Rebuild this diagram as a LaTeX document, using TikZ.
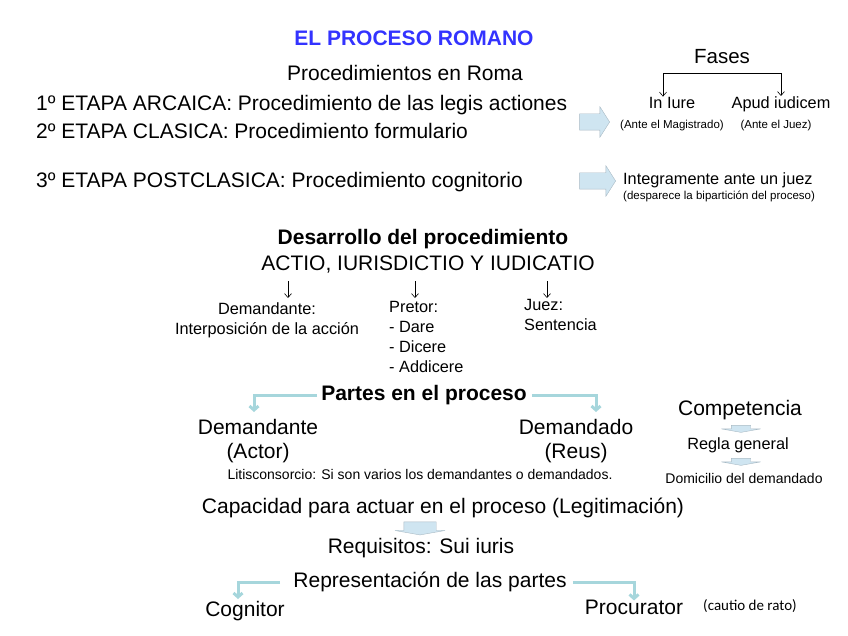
\documentclass[tikz,border=0pt]{standalone}
\usepackage{fontspec}
\setmainfont{Liberation Sans}
\newfontfamily\calib{Carlito}
\usetikzlibrary{arrows.meta,shapes.arrows}
\definecolor{ctitle}{HTML}{3333FF}
\definecolor{cblock}{HTML}{CFE5F1}
\definecolor{cedge}{HTML}{A9BAC4}
\definecolor{cteal}{HTML}{A6D6DC}
\tikzset{
  big/.style={font=\fontsize{21}{24}\selectfont, inner sep=1pt, align=center},
  mid/.style={font=\fontsize{16.3}{20}\selectfont, inner sep=1pt, align=center},
  sml/.style={font=\fontsize{14}{16}\selectfont, inner sep=1pt},
  tiny/.style={font=\fontsize{11.5}{13}\selectfont, inner sep=1pt},
  blkr/.style={single arrow, draw=cedge, fill=cblock, inner xsep=0pt,
    inner ysep=8pt, single arrow head extend=7pt, single arrow tip angle=115},
  blkd/.style={single arrow, draw=cedge, fill=cblock, rotate=-90, inner xsep=0pt,
    single arrow tip angle=160},
  barr/.style={-{Straight Barb[length=4pt,width=7pt]}, line width=0.6pt},
  tarr/.style={-{Straight Barb[length=4pt,width=9pt]}, line width=3pt, draw=cteal},
}
\begin{document}
\begin{tikzpicture}[x=1pt, y=-1pt]
  \useasboundingbox (0,0) rectangle (848,636);
  % title and stages
  \node[big, font=\fontsize{21}{24}\selectfont\bfseries, text=ctitle] (title) at (414,38) {EL PROCESO ROMANO};
  \node[big] (roma) at (405,73) {Procedimientos en Roma};
  \node[big, anchor=west] (et1) at (35,105) {1º ETAPA ARCAICA: Procedimiento de las legis actiones};
  \node[big, anchor=west] (et2) at (35,131) {2º ETAPA CLASICA: Procedimiento formulario};
  \node[big, anchor=west] (et3) at (35,182) {3º ETAPA POSTCLASICA: Procedimiento cognitorio};
  \node[blkr, minimum height=30pt] (ba1) at (592,122) {};
  \node[blkr, minimum height=36pt] (ba2) at (595,181) {};

  % fases
  \node[big, font=\fontsize{20.5}{24}\selectfont] (fases) at (722,57) {Fases};
  \node[mid, anchor=base] (inlure) at (672,109) {In Iure};
  \node[mid, anchor=base] (apud) at (781,109) {Apud iudicem};
  \node[tiny] (magis) at (672,126) {(Ante el Magistrado)};
  \node[tiny] (juez0) at (776,126) {(Ante el Juez)};
  \coordinate (fk) at (722,73);
  \draw[barr] (fk) -| ([xshift=-9pt]inlure.north);
  \draw[barr] (fk) -| (apud.north);
  \node[mid, anchor=west] (integ) at (622,180) {Integramente ante un juez};
  \node[tiny, anchor=west] (bipar) at (622,196) {(desparece la bipartición del proceso)};

  % desarrollo
  \node[big, font=\fontsize{21}{24}\selectfont\bfseries] (desa) at (423,239) {Desarrollo del procedimiento};
  \node[big] (actio) at (428,265) {ACTIO, IURISDICTIO Y IUDICATIO};
  \node[mid] (dmte0) at (267,320) {Demandante:\\Interposición de la acción};
  \node[mid, align=left, anchor=west] (pretor) at (388,337) {Pretor:\\- Dare\\- Dicere\\- Addicere};
  \node[mid, align=left, anchor=west] (juez) at (523,315) {Juez:\\Sentencia};
  \coordinate (a1) at (288,281);
  \coordinate (a2) at (415,281);
  \coordinate (a3) at (547,281);
  \draw[barr] (a1) -- ++(0,17);
  \draw[barr] (a2) -- ++(0,17);
  \draw[barr] (a3) -- ++(0,17);

  % partes
  \node[big, font=\fontsize{21}{24}\selectfont\bfseries] (partes) at (424,395) {Partes en el proceso};
  \node[big] (dmte) at (258,441) {Demandante\\(Actor)};
  \node[big] (dmdo) at (576,441) {Demandado\\(Reus)};
  \node[sml] (litis) at (420,474) {Litisconsorcio: Si son varios los demandantes o demandados.};
  \draw[tarr] ([xshift=-3pt]partes.west) -| ([xshift=-4pt, yshift=6pt]dmte.north);
  \draw[tarr] ([xshift=4pt]partes.east) -| ([xshift=20pt, yshift=6pt]dmdo.north);

  % competencia
  \node[big] (comp) at (740,410) {Competencia};
  \node[mid] (regla) at (738,445) {Regla general};
  \node[sml] (domic) at (744,478) {Domicilio del demandado};
  \node[blkd, inner ysep=9.5pt, minimum height=7pt, single arrow head extend=10pt] (bd1) at (741,428) {};
  \node[blkd, inner ysep=9.5pt, minimum height=7pt, single arrow head extend=10pt] (bd2) at (741,461) {};

  % capacidad
  \node[big] (capa) at (443,508) {Capacidad para actuar en el proceso (Legitimación)};
  \node[blkd, inner ysep=16pt, minimum height=13pt, single arrow head extend=9pt] (bd3) at (420,527) {};
  \node[big] (requi) at (421,548) {Requisitos: Sui iuris};

  % representacion
  \node[big] (repre) at (430,582) {Representación de las partes};
  \node[big] (cogn) at (245,611) {Cognitor};
  \node[big] (procu) at (634,607) {Procurator};
  \node[tiny, font=\calib\fontsize{15}{17}\selectfont] (cautio) at (750,606) {(cautio de rato)};
  \draw[tarr] ([xshift=-12pt]repre.west) -| ([xshift=-7pt, yshift=1pt]cogn.north);
  \draw[tarr] ([xshift=5pt]repre.east) -| ([yshift=-2pt]procu.north);
\end{tikzpicture}
\end{document}
